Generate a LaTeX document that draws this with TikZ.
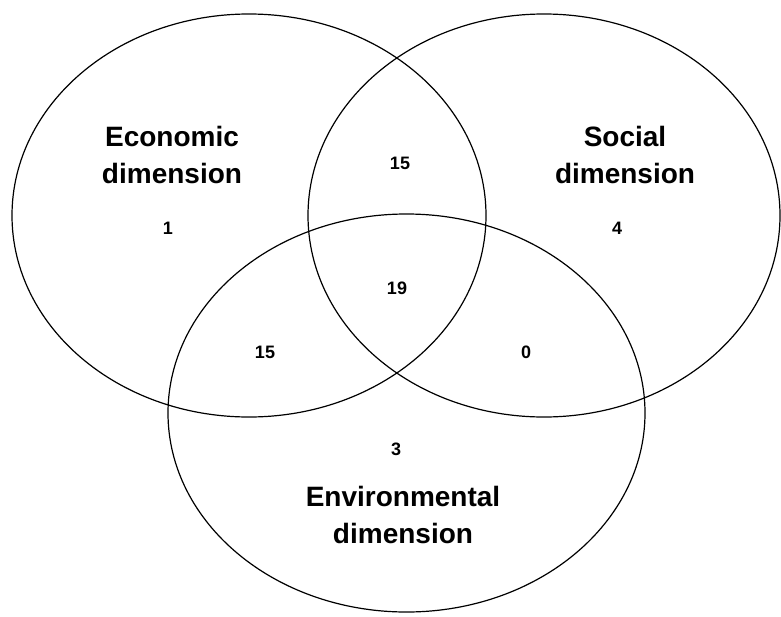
\documentclass[tikz,border=0pt]{standalone}
\usepackage{fontspec}
\setmainfont{Liberation Sans}
\usepackage{tikz}
\usepackage{xcolor}

\begin{document}
\begin{tikzpicture}[x=1pt, y=-1pt, line width=1.2pt,
        every node/.style={font=\bfseries, align=center},
        dimlabel/.style={font=\fontsize{28}{37}\selectfont\bfseries},
        count/.style={font=\fontsize{18}{20}\selectfont\bfseries}]
            \useasboundingbox (0,0) rectangle (781,616);

            \draw (249,215.5) ellipse (237 and 201.5);
            \draw (544,215.5) ellipse (236 and 201.5);
            \draw (406.5,413) ellipse (238.5 and 199);

            \node[dimlabel] (eco) at (172,155) {Economic\\dimension};
            \node[dimlabel] (soc) at (625,155) {Social\\dimension};
            \node[dimlabel] (env) at (403,515) {Environmental\\dimension};

            \node[count] (n1) at (168,228) {1};
            \node[count] (n4) at (617,228) {4};
            \node[count] (n15a) at (400,163) {15};
            \node[count] (n19) at (397,288) {19};
            \node[count] (n15b) at (265,352) {15};
            \node[count] (n0) at (526,352) {0};
            \node[count] (n3) at (396,449) {3};
        \end{tikzpicture}
\end{document}
